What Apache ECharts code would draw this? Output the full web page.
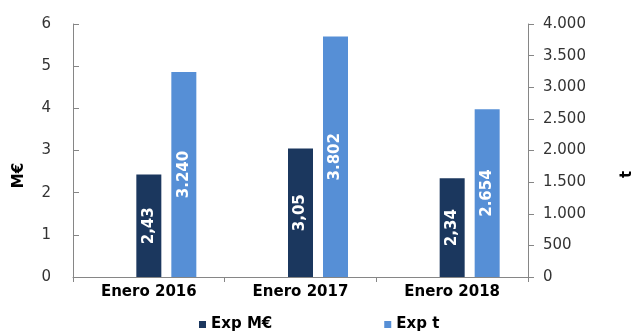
<!DOCTYPE html>
<html>
<head>
<meta charset="utf-8">
<script src="https://cdn.jsdelivr.net/npm/echarts@6/dist/echarts.min.js"></script>
<style>
  html, body { margin: 0; padding: 0; background: #ffffff; }
  #chart { width: 635px; height: 331px; }
</style>
</head>
<body>
<div id="chart"></div>
<script>
// Exports: value (M€) and volume (t) for January of each year
const categories = ['Enero 2016', 'Enero 2017', 'Enero 2018'];
const expMEur = [2.43, 3.05, 2.34];
const expTons = [3240, 3802, 2654];
const leftTicks = { min: 0, max: 6, interval: 1 };
const rightTicks = { min: 0, max: 4000, interval: 500 };

const FONT = '"DejaVu Sans", sans-serif';
const DARK = '#1b375e';
const LIGHT = '#568fd6';
const AXIS = '#868686';

// Spanish number formatting: decimal comma, thousands dot
const fmtDec = v => v.toFixed(2).replace('.', ',');
const fmtThousands = v => String(Math.round(v)).replace(/\B(?=(\d{3})+(?!\d))/g, '.');

const chart = echarts.init(document.getElementById('chart'), null, { renderer: 'canvas' });

const barLabel = formatter => ({
  show: true,
  position: 'inside',
  rotate: 90,
  color: '#ffffff',
  fontFamily: FONT,
  fontWeight: 'bold',
  fontSize: 15,
  formatter: p => formatter(p.value)
});

chart.setOption({
  animation: false,
  textStyle: { fontFamily: FONT },
  grid: { left: 73, right: 107, top: 24, bottom: 54, outerBoundsMode: 'none', containLabel: false },
  legend: {
    data: ['Exp M€', 'Exp t'],
    left: 194,
    top: 312,
    itemWidth: 7,
    itemHeight: 7,
    itemGap: 112,
    icon: 'rect',
    textStyle: { fontFamily: FONT, fontWeight: 'bold', fontSize: 15, color: '#000000' }
  },
  xAxis: {
    type: 'category',
    data: categories,
    axisLine: { lineStyle: { color: AXIS, width: 1 } },
    axisTick: { show: true, length: 5, lineStyle: { color: AXIS } },
    axisLabel: { fontFamily: FONT, fontWeight: 'bold', fontSize: 15, color: '#000000', margin: 8 }
  },
  yAxis: [
    {
      type: 'value',
      min: leftTicks.min, max: leftTicks.max, interval: leftTicks.interval,
      name: 'M€',
      nameLocation: 'middle',
      nameRotate: 90,
      nameGap: 46,
      nameTextStyle: { fontFamily: FONT, fontWeight: 'bold', fontSize: 15, color: '#000000', padding: [0, 50, 0, 0] },
      axisLine: { show: true, lineStyle: { color: AXIS, width: 1 } },
      axisTick: { show: true, inside: true, length: 6, lineStyle: { color: AXIS } },
      axisLabel: { fontFamily: FONT, fontSize: 15, color: '#333333', margin: 22 },
      splitLine: { show: false }
    },
    {
      type: 'value',
      position: 'right',
      min: rightTicks.min, max: rightTicks.max, interval: rightTicks.interval,
      name: 't',
      nameLocation: 'middle',
      nameRotate: 90,
      nameGap: 92,
      nameTextStyle: { fontFamily: FONT, fontWeight: 'bold', fontSize: 15, color: '#000000', padding: [0, 48, 0, 0] },
      axisLine: { show: true, lineStyle: { color: AXIS, width: 1 } },
      axisTick: { show: true, inside: false, length: 6, lineStyle: { color: AXIS } },
      axisLabel: { fontFamily: FONT, fontSize: 15, color: '#333333', margin: 15, formatter: v => fmtThousands(v) },
      splitLine: { show: false }
    }
  ],
  series: [
    {
      // empty slot that keeps the value bar at the centre of each category
      name: 'spacer',
      type: 'bar',
      yAxisIndex: 0,
      data: categories.map(() => null),
      barWidth: 25,
      barGap: '40%',
      silent: true
    },
    {
      name: 'Exp M€',
      type: 'bar',
      yAxisIndex: 0,
      data: expMEur,
      barWidth: 25,
      barGap: '40%',
      itemStyle: { color: DARK },
      label: barLabel(fmtDec)
    },
    {
      name: 'Exp t',
      type: 'bar',
      yAxisIndex: 1,
      data: expTons,
      barWidth: 25,
      barGap: '40%',
      itemStyle: { color: LIGHT },
      label: barLabel(fmtThousands)
    }
  ]
});
</script>
</body>
</html>
